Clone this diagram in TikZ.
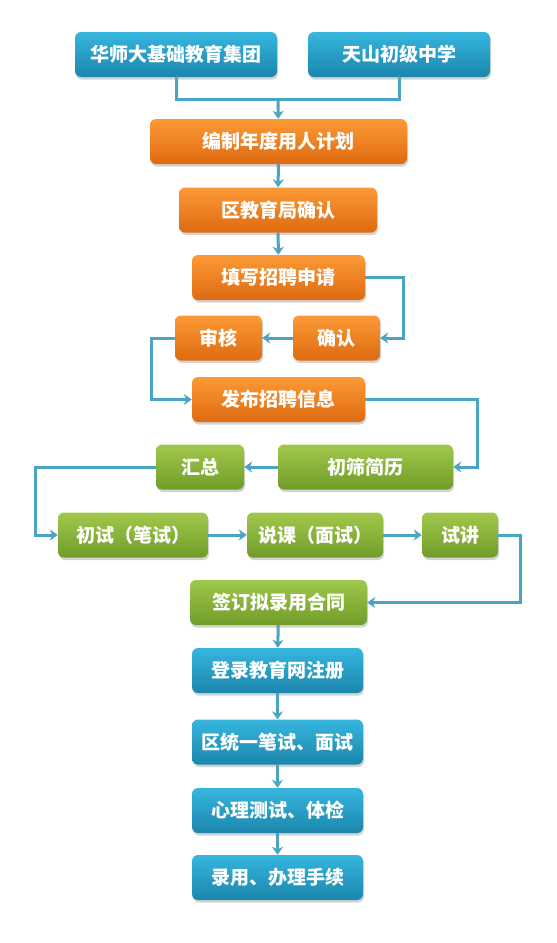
\documentclass[tikz,border=0pt]{standalone}
\usepackage{fontspec}
\setmainfont{Noto Sans CJK SC}
\usetikzlibrary{arrows.meta, shadows}

\definecolor{bluetop}{HTML}{36B6DE}
\definecolor{bluebot}{HTML}{1B86AC}
\definecolor{orangetop}{HTML}{FC9A36}
\definecolor{orangebot}{HTML}{DE6A10}
\definecolor{greentop}{HTML}{A0C84C}
\definecolor{greenbot}{HTML}{709C28}
\definecolor{linkcol}{HTML}{4AA4C4}

\begin{document}
\begin{tikzpicture}[x=1pt, y=-1pt,
		box/.style={rounded corners=6pt, minimum height=45pt, inner sep=0pt,
			text=white, font=\fontsize{19}{19}\selectfont\bfseries,
			drop shadow={opacity=0.35, shadow xshift=1pt, shadow yshift=-2.5pt}},
		bluebox/.style={box, top color=bluetop, bottom color=bluebot},
		orangebox/.style={box, top color=orangetop, bottom color=orangebot},
		greenbox/.style={box, top color=greentop, bottom color=greenbot},
		link/.style={draw=linkcol, line width=3pt,
			-{Stealth[length=8pt, width=11pt, inset=2.5pt]}},
		plain/.style={draw=linkcol, line width=3pt}]
		
		\useasboundingbox (0,0) rectangle (557,943);
		
		\node[bluebox, minimum width=202pt] (jt) at (176,54.5) {华师大基础教育集团};
		\node[bluebox, minimum width=182pt] (ts) at (399,54.5) {天山初级中学};
		\node[orangebox, minimum width=257pt] (bz) at (278.5,141.5) {编制年度用人计划};
		\node[orangebox, minimum width=198pt] (qj) at (278,210) {区教育局确认};
		\node[orangebox, minimum width=173pt] (tx) at (278.5,277.5) {填写招聘申请};
		\node[orangebox, minimum width=87pt] (sh) at (218.5,338) {审核};
		\node[orangebox, minimum width=87pt] (qr) at (336.5,338) {确认};
		\node[orangebox, minimum width=173pt] (fb) at (278.5,399.5) {发布招聘信息};
		\node[greenbox, minimum width=88pt] (hz) at (200,467) {汇总};
		\node[greenbox, minimum width=175pt] (cs) at (365.5,467) {初筛简历};
		\node[greenbox, minimum width=150pt] (bs) at (133,535) {初试（笔试）};
		\node[greenbox, minimum width=136pt] (mk) at (315,535) {说课（面试）};
		\node[greenbox, minimum width=76pt] (sj) at (460,535) {试讲};
		\node[greenbox, minimum width=177pt] (qd) at (278.5,602.5) {签订拟录用合同};
		\node[bluebox, minimum width=171pt] (dl) at (277.5,670.5) {登录教育网注册};
		\node[bluebox, minimum width=171pt] (tk) at (277.5,742) {区统一笔试、面试};
		\node[bluebox, minimum width=171pt] (xl) at (277.5,810.5) {心理测试、体检};
		\node[bluebox, minimum width=171pt] (ly) at (277.5,877.5) {录用、办理手续};
		
		\coordinate (join) at (278,99);
		
		\draw[plain, line cap=round] (jt.south) -- (jt.south |- join) -| (ts.south);
		\draw[link] (join) -- (bz);
		\draw[link] (bz) -- (qj);
		\draw[link] (qj) -- (tx);
		\draw[link] (tx.east) -| (403,310) |- (qr.east);
		\draw[link] (qr) -- (sh);
		\draw[link] (sh.west) -| (151,370) |- (fb.west);
		\draw[link] (fb.east) -| (477,440) |- (cs.east);
		\draw[link] (cs) -- (hz);
		\draw[link] (hz.west) -| (35,500) |- (bs.west);
		\draw[link] (bs) -- (mk);
		\draw[link] (mk) -- (sj);
		\draw[link] (sj.east) -| (520,570) |- (qd.east);
		\draw[link] (qd) -- (dl);
		\draw[link] (dl) -- (tk);
		\draw[link] (tk) -- (xl);
		\draw[link] (xl) -- (ly);
		\end{tikzpicture}
\end{document}
